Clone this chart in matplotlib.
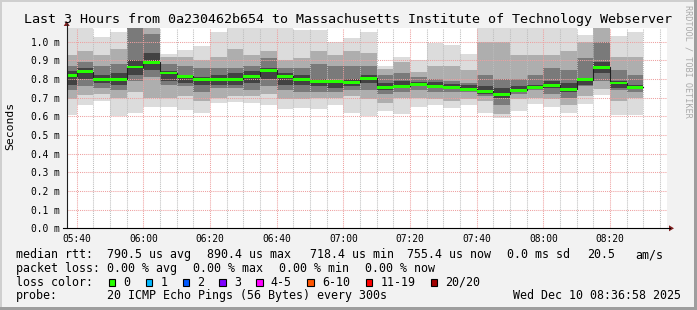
import matplotlib
matplotlib.use("Agg")
import matplotlib.pyplot as plt
from matplotlib.patches import Rectangle, Polygon
from matplotlib.lines import Line2D
import numpy as np

W, H = 697, 310
MONO = "DejaVu Sans Mono"

title = "Last 3 Hours from 0a230462b654 to Massachusetts Institute of Technology Webserver"
first_bar = "05:35"          # start of the first (partially visible) 5-min step
view_start = "05:37"
view_hours = 3
step_min = 5

# median RTT per 5-minute step (ms)
median = [0.818, 0.838, 0.799, 0.799, 0.864, 0.890, 0.832, 0.815, 0.796, 0.799,
          0.799, 0.815, 0.847, 0.815, 0.795, 0.788, 0.788, 0.782, 0.804, 0.756,
          0.761, 0.772, 0.761, 0.756, 0.745, 0.734, 0.718, 0.740, 0.756, 0.767,
          0.745, 0.795, 0.862, 0.778, 0.756]
# smoke bands (ms): outermost ping range ... innermost
outer_lo = [0.605, 0.663, 0.680, 0.604, 0.620, 0.649, 0.649, 0.631, 0.619, 0.670,
            0.676, 0.670, 0.660, 0.640, 0.645, 0.640, 0.660, 0.620, 0.600, 0.626,
            0.610, 0.650, 0.660, 0.645, 0.660, 0.620, 0.590, 0.630, 0.667, 0.650,
            0.620, 0.667, 0.712, 0.605, 0.605]
outer_hi = [1.15, 1.15, 1.024, 1.054, 1.20, 1.20, 0.935, 0.953, 0.979, 1.05,
            1.15, 1.10, 1.10, 1.10, 1.06, 1.06, 1.00, 1.02, 1.05, 0.87,
            0.92, 0.90, 0.99, 0.98, 0.935, 1.10, 1.10, 1.10, 1.10, 1.10,
            1.10, 1.033, 1.15, 1.03, 1.05]
band2_lo = [0.69, 0.712, 0.72, 0.70, 0.73, 0.70, 0.70, 0.71, 0.68, 0.70,
            0.71, 0.71, 0.72, 0.69, 0.69, 0.70, 0.70, 0.71, 0.69, 0.67,
            0.70, 0.70, 0.69, 0.68, 0.69, 0.68, 0.61, 0.69, 0.70, 0.69,
            0.66, 0.71, 0.745, 0.68, 0.70]
band2_hi = [0.93, 0.95, 0.93, 0.96, 1.15, 1.15, 0.917, 0.917, 0.90, 0.92,
            0.96, 0.93, 0.95, 0.90, 0.91, 0.95, 0.93, 0.95, 0.94, 0.855,
            0.89, 0.835, 0.87, 0.87, 0.85, 1.00, 1.00, 0.93, 0.93, 0.93,
            0.95, 1.00, 1.08, 0.92, 0.92]
band3_lo = [0.74, 0.76, 0.75, 0.74, 0.79, 0.81, 0.77, 0.76, 0.73, 0.75,
            0.75, 0.74, 0.76, 0.74, 0.73, 0.73, 0.73, 0.74, 0.74, 0.72,
            0.73, 0.74, 0.73, 0.73, 0.73, 0.71, 0.66, 0.72, 0.74, 0.72,
            0.70, 0.76, 0.79, 0.74, 0.73]
band3_hi = [0.87, 0.89, 0.87, 0.88, 1.08, 1.04, 0.88, 0.87, 0.86, 0.86,
            0.86, 0.87, 0.91, 0.86, 0.86, 0.88, 0.87, 0.87, 0.87, 0.82,
            0.83, 0.81, 0.80, 0.79, 0.78, 0.82, 0.80, 0.80, 0.82, 0.86,
            0.85, 0.91, 1.00, 0.85, 0.82]
band4_lo = [0.77, 0.80, 0.78, 0.77, 0.82, 0.85, 0.79, 0.78, 0.77, 0.77,
            0.77, 0.78, 0.80, 0.77, 0.77, 0.76, 0.75, 0.76, 0.78, 0.74,
            0.75, 0.76, 0.75, 0.745, 0.735, 0.72, 0.70, 0.73, 0.75, 0.75,
            0.73, 0.77, 0.83, 0.75, 0.745]
band4_hi = [0.84, 0.86, 0.82, 0.83, 0.90, 0.94, 0.84, 0.82, 0.81, 0.82,
            0.83, 0.84, 0.86, 0.83, 0.82, 0.80, 0.79, 0.80, 0.82, 0.78,
            0.79, 0.785, 0.785, 0.775, 0.765, 0.76, 0.75, 0.76, 0.77, 0.79,
            0.78, 0.80, 0.89, 0.79, 0.77]

y_ticks = [0.0, 0.1, 0.2, 0.3, 0.4, 0.5, 0.6, 0.7, 0.8, 0.9, 1.0]
x_tick_labels = ["05:40", "06:00", "06:20", "06:40", "07:00", "07:20", "07:40", "08:00", "08:20"]

legend_rows = [
    [("median rtt:", 16), ("790.5 us avg", 107.3), ("890.4 us max", 206.7),
     ("718.4 us min", 310.0), ("755.4 us now", 406.7), ("0.0 ms sd", 506.7),
     ("20.5", 586.7), ("am/s", 635)],
    [("packet loss:", 16), ("0.00 % avg", 107.3), ("0.00 % max", 193.3),
     ("0.00 % min", 279.3), ("0.00 % now", 365)],
    [("loss color:", 16)],
    [("probe:", 16), ("20 ICMP Echo Pings (56 Bytes) every 300s", 107.3),
     ("Wed Dec 10 08:36:58 2025", 512.7)],
]
loss_labels = ["0", "1", "2", "3", "4-5", "6-10", "11-19", "20/20"]
loss_colors = ["#26ff00", "#00b8ff", "#0059ff", "#7e00ff", "#ff00ff", "#ff5500", "#ff0000", "#a10000"]
loss_box_x = [108.7, 145.7, 182.7, 219.3, 256.0, 307.3, 365.7, 430.7]


def hm(s):
    h, m = s.split(":")
    return int(h) * 60 + int(m)


def fx(x):
    return x / W


def fy(y):
    return 1 - y / H


fig = plt.figure(figsize=(W / 100, H / 100), dpi=100)
fig.patch.set_facecolor("#f2f2f2")

x0, x1 = 66.7, 666.7
ybot, ytop = 228.3, 28.3
px_per_ms = 186.7
ax = fig.add_axes([fx(x0), fy(ybot), (x1 - x0) / W, (ybot - ytop) / H])
ax.set_facecolor("white")
t0 = hm(view_start)
ax.set_xlim(t0, t0 + view_hours * 60)
ax.set_ylim(0, (ybot - ytop) / px_per_ms)
for s in ax.spines.values():
    s.set_visible(False)

n = len(median)
starts = hm(first_bar) + step_min * np.arange(n)
med = np.array(median)

bands = [
    (outer_lo, outer_hi, "#dcdcdc"),
    (band2_lo, band2_hi, "#aeaeae"),
    (band3_lo, band3_hi, "#7a7a7a"),
    (band4_lo, band4_hi, "#424242"),
]
for lo, hi, c in bands:
    lo = np.array(lo); hi = np.array(hi)
    ax.bar(starts, hi - lo, bottom=lo, width=step_min, align="edge",
           color=c, linewidth=0, zorder=1)

# grid
top = ax.get_ylim()[1]
minor_x = np.arange(hm("05:40"), t0 + view_hours * 60 + 0.1, step_min)
major_x = [hm(s) for s in x_tick_labels]
minor_only = [x for x in minor_x if x not in major_x]
ax.vlines(minor_only, 0, top, colors="#bdbdbd", linestyles=(0, (1, 1)), lw=0.75, zorder=5)
ax.vlines(major_x, 0, top, colors="#eea0a0", linestyles=(0, (1, 1)), lw=0.75, zorder=5)
ax.hlines(y_ticks[1:], t0, t0 + view_hours * 60, colors="#eea0a0",
          linestyles=(0, (1, 1)), lw=0.75, zorder=5)

# median: dark step line + green markers
edges = np.append(starts, starts[-1] + step_min)
ax.step(edges, np.append(med, med[-1]), where="post", color="#202020", lw=0.8, zorder=6)
hw = 1.4 / px_per_ms
ax.bar(starts, 2 * hw, bottom=med - hw, width=step_min, align="edge",
       color="#26ff00", linewidth=0, zorder=7)

ax.set_xticks(major_x, x_tick_labels)
ax.set_yticks(y_ticks, [f"{v:.1f} m" for v in y_ticks])
ax.tick_params(axis="both", length=0, labelsize=6.9, colors="black")
ax.tick_params(axis="x", pad=3.8)
ax.tick_params(axis="y", pad=5.3)
for lab in ax.get_xticklabels() + ax.get_yticklabels():
    lab.set_family(MONO)

# axis lines and arrows
fig.add_artist(Line2D([fx(x0), fx(x0)], [fy(ybot), fy(24)], color="#1f1f1f", lw=0.8))
fig.add_artist(Line2D([fx(62.7), fx(670)], [fy(ybot), fy(ybot)], color="black", lw=0.8))
fig.add_artist(Polygon([[fx(669), fy(ybot - 3)], [fx(669), fy(ybot + 3)], [fx(674), fy(ybot)]],
                       closed=True, transform=fig.transFigure, color="#801f1f", lw=0))
fig.add_artist(Polygon([[fx(x0 - 3), fy(26)], [fx(x0 + 3), fy(26)], [fx(x0), fy(21)]],
                       closed=True, transform=fig.transFigure, color="#801f1f", lw=0))

# title, labels
fig.text(fx(348), fy(23.5), title, ha="center", va="baseline", fontsize=9.6, family=MONO)
fig.text(fx(10), fy(126), "Seconds", rotation=90, ha="center", va="center", fontsize=8.2, family=MONO)
fig.text(fx(688), fy(5), "RRDTOOL / TOBI OETIKER", rotation=270, ha="center", va="top",
         fontsize=6.1, color="#aaaaaa", family=MONO)

base_y = [258.3, 271.7, 285.6, 299.3]
for row, by in zip(legend_rows, base_y):
    for txt, x in row:
        fig.text(fx(x), fy(by), txt, ha="left", va="baseline", fontsize=8.35, family=MONO)

for lab, c, bx in zip(loss_labels, loss_colors, loss_box_x):
    fig.add_artist(Rectangle((fx(bx), fy(285.6)), 6.7 / W, 7 / H, transform=fig.transFigure,
                             facecolor=c, edgecolor="black", lw=0.8))
    fig.text(fx(bx + 14.6), fy(285.6), lab, ha="left", va="baseline", fontsize=8.35, family=MONO)

# 3D frame
fig.add_artist(Rectangle((0, fy(2)), 1, 2 / H, transform=fig.transFigure, color="#cfcfcf", lw=0))
fig.add_artist(Rectangle((0, 0), 2 / W, 1, transform=fig.transFigure, color="#cfcfcf", lw=0))
fig.add_artist(Rectangle((1 - 3 / W, 0), 3 / W, 1, transform=fig.transFigure, color="#9e9e9e", lw=0))
fig.add_artist(Rectangle((0, 0), 1, 3 / H, transform=fig.transFigure, color="#9e9e9e", lw=0))

fig.savefig("out.png", dpi=100, facecolor=fig.get_facecolor())
